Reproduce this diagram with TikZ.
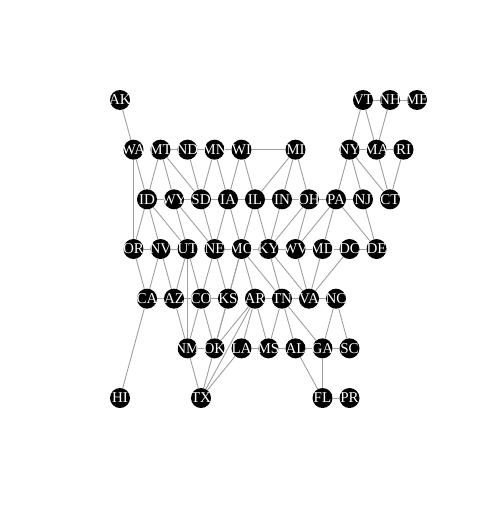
\documentclass[tikz,border=0pt]{standalone}
\usepackage{fontspec}
\setmainfont{Liberation Serif}
\usetikzlibrary{backgrounds}
\begin{document}
\begin{tikzpicture}[x=13.5pt, y=-49.67pt,
    state/.style={circle, fill=black, inner sep=0pt, minimum size=20pt,
      text=white, font=\fontsize{15}{15}\selectfont,
      execute at begin node={\hbox to 0pt\bgroup\hss},
      execute at end node={\hss\egroup}},
    link/.style={gray!75, line width=0.9pt}]
        \useasboundingbox (-120pt,100pt) rectangle (380pt,-417pt);

        % row 0
        \node[state] (AK) at (0,0) {AK};
        \node[state] (VT) at (18,0) {VT};
        \node[state] (NH) at (20,0) {NH};
        \node[state] (ME) at (22,0) {ME};
        % row 1
        \node[state] (WA) at (1,1) {WA};
        \node[state] (MT) at (3,1) {MT};
        \node[state] (ND) at (5,1) {ND};
        \node[state] (MN) at (7,1) {MN};
        \node[state] (WI) at (9,1) {WI};
        \node[state] (MI) at (13,1) {MI};
        \node[state] (NY) at (17,1) {NY};
        \node[state] (MA) at (19,1) {MA};
        \node[state] (RI) at (21,1) {RI};
        % row 2
        \node[state] (ID) at (2,2) {ID};
        \node[state] (WY) at (4,2) {WY};
        \node[state] (SD) at (6,2) {SD};
        \node[state] (IA) at (8,2) {IA};
        \node[state] (IL) at (10,2) {IL};
        \node[state] (IN) at (12,2) {IN};
        \node[state] (OH) at (14,2) {OH};
        \node[state] (PA) at (16,2) {PA};
        \node[state] (NJ) at (18,2) {NJ};
        \node[state] (CT) at (20,2) {CT};
        % row 3
        \node[state] (OR) at (1,3) {OR};
        \node[state] (NV) at (3,3) {NV};
        \node[state] (UT) at (5,3) {UT};
        \node[state] (NE) at (7,3) {NE};
        \node[state] (MO) at (9,3) {MO};
        \node[state] (KY) at (11,3) {KY};
        \node[state] (WV) at (13,3) {WV};
        \node[state] (MD) at (15,3) {MD};
        \node[state] (DC) at (17,3) {DC};
        \node[state] (DE) at (19,3) {DE};
        % row 4
        \node[state] (CA) at (2,4) {CA};
        \node[state] (AZ) at (4,4) {AZ};
        \node[state] (CO) at (6,4) {CO};
        \node[state] (KS) at (8,4) {KS};
        \node[state] (AR) at (10,4) {AR};
        \node[state] (TN) at (12,4) {TN};
        \node[state] (VA) at (14,4) {VA};
        \node[state] (NC) at (16,4) {NC};
        % row 5
        \node[state] (NM) at (5,5) {NM};
        \node[state] (OK) at (7,5) {OK};
        \node[state] (LA) at (9,5) {LA};
        \node[state] (MS) at (11,5) {MS};
        \node[state] (AL) at (13,5) {AL};
        \node[state] (GA) at (15,5) {GA};
        \node[state] (SC) at (17,5) {SC};
        % row 6
        \node[state] (HI) at (0,6) {HI};
        \node[state] (TX) at (6,6) {TX};
        \node[state] (FL) at (15,6) {FL};
        \node[state] (PR) at (17,6) {PR};

        \begin{scope}[on background layer]
        \foreach \a/\b in {AK/WA, HI/CA, WA/ID, WA/OR, MT/ND, MT/SD, MT/WY, MT/ID,
            ND/MN, ND/SD, MN/WI, MN/IA, MN/SD, WI/MI, WI/IL, WI/IA,
            MI/IL, MI/IN, MI/OH, NY/VT, NY/MA, NY/CT, NY/NJ, NY/PA,
            VT/NH, VT/MA, NH/ME, NH/MA, MA/RI, MA/CT, RI/CT,
            ID/WY, ID/OR, ID/NV, ID/UT, WY/SD, WY/NE, WY/UT,
            SD/IA, SD/NE, IA/IL, IA/NE, IA/MO, IL/IN, IL/MO, IL/KY,
            IN/OH, IN/KY, OH/PA, OH/KY, OH/WV, PA/NJ, PA/WV, PA/MD, PA/DE, NJ/DE,
            OR/NV, OR/CA, NV/UT, NV/CA, NV/AZ, UT/AZ, UT/CO, UT/NM,
            NE/MO, NE/CO, NE/KS, MO/KY, MO/KS, MO/AR, MO/TN, MO/OK,
            KY/WV, KY/TN, KY/VA, WV/MD, WV/VA, MD/DC, MD/DE, MD/VA, DC/VA,
            CA/AZ, AZ/CO, AZ/NM, CO/KS, CO/NM, CO/OK, KS/OK,
            AR/TN, AR/OK, AR/TX, AR/LA, AR/MS, TN/VA, TN/MS, TN/AL, TN/GA,
            VA/NC, NC/GA, NC/SC, NM/OK, NM/TX, OK/TX, LA/MS, LA/TX,
            MS/AL, AL/GA, AL/FL, GA/SC, GA/FL, FL/PR}
          \draw[link] (\a) -- (\b);
        \end{scope}
\end{tikzpicture}
\end{document}
